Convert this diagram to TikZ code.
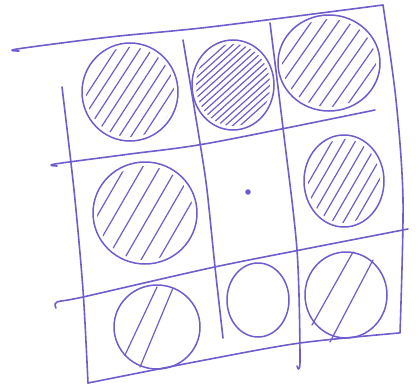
\documentclass[tikz,border=0pt]{standalone}
\definecolor{pen}{RGB}{112,92,204}
\tikzset{
  gridline/.style={draw=pen, line width=1.6pt, line cap=round, line join=round},
  rim/.style={draw=pen, line width=1.5pt},
  hatchline/.style={draw=pen, line width=1.2pt, line cap=round},
}
\newcommand\hatchell[6]{%
  \begin{scope}
    \clip (#1,#2) ellipse [x radius=#3-4, y radius=#4-4];
    \foreach \d in {#5}
      \draw[hatchline, shift={(#1,#2)}, rotate=#6] (-70,\d) -- (70,\d);
  \end{scope}
  \draw[rim] (#1,#2) ellipse [x radius=#3, y radius=#4];
}
\begin{document}
\begin{tikzpicture}[x=1pt,y=-1pt]
\useasboundingbox (0,0) rectangle (419,385);
% grid lines
\draw[gridline] plot[smooth] coordinates {(19,51) (17,49) (110,37) (210,27) (383,5)};
\draw[gridline] plot[smooth] coordinates {(383,5) (396,100) (403,200) (400,333)};
\draw[gridline] plot[smooth] coordinates {(88,383) (205,360) (300,343) (399,333)};
\draw[gridline] plot[smooth] coordinates {(62,87) (74,190) (83,290) (88,383)};
\draw[gridline] plot[smooth] coordinates {(57,166) (55,164) (130,154) (210,143) (375,110)};
\draw[gridline] plot[smooth] coordinates {(56,308) (57,302) (83,297) (210,268) (300,250) (408,229)};
\draw[gridline] plot[smooth] coordinates {(183,40) (200,143) (207,190) (215,267) (223,338)};
\draw[gridline] plot[smooth] coordinates {(270,23) (283,128) (297,250) (300,360) (297,366)};
% circles
\hatchell{130}{92}{48}{49}{-55,-45,...,55}{57}
\hatchell{233}{85}{41}{45}{-55,-50,...,55}{42}
\hatchell{329}{63}{51}{48}{-60,-49,...,60}{55}
\hatchell{145}{213}{52}{51}{-55,-40,...,55}{60}
\hatchell{344}{181}{40}{46}{-50,-40,...,50}{60}
\draw[rim] (157,327) ellipse [x radius=43, y radius=42];
\draw[hatchline] (125,355) -- (157,287);
\draw[hatchline] (140,367) -- (173,288);
\draw[rim] (258,300) ellipse [x radius=31, y radius=37];
\draw[rim] (346,295) ellipse [x radius=41, y radius=43];
\draw[hatchline] (312,325) -- (353,252);
\draw[hatchline] (330,342) -- (373,260);
% center dot
\fill[pen] (248,192) circle [radius=2.8];
\end{tikzpicture}
\end{document}
